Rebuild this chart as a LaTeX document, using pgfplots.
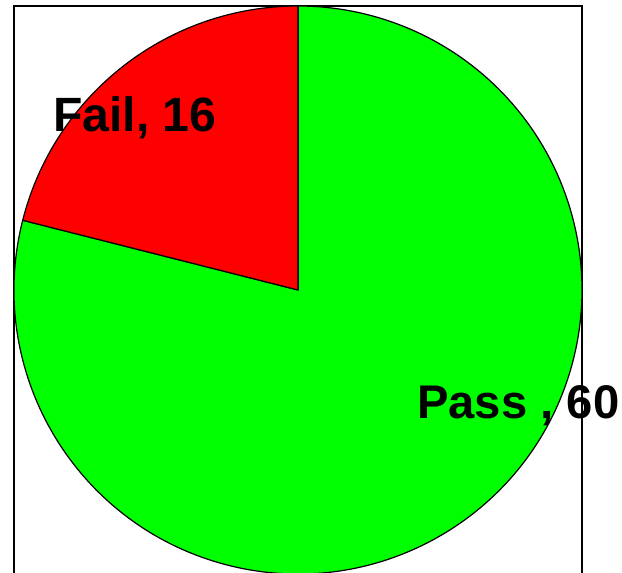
\documentclass[border=0pt]{standalone}
\usepackage{pgfplots}
\pgfplotsset{compat=1.18}
\usepackage{pgfplotstable}
\usepackage{fontspec}
\setmainfont{Liberation Sans}
\pgfplotstableread{
label value
Fail 16
Pass 60
}\piedata
\begin{document}
\begin{tikzpicture}
\pgfplotstablegetelem{0}{value}\of\piedata \let\vfail\pgfplotsretval
\pgfplotstablegetelem{1}{value}\of\piedata \let\vpass\pgfplotsretval
\pgfmathsetmacro{\total}{\vfail+\vpass}
\pgfmathsetmacro{\afail}{90+360*\vfail/\total}
\begin{axis}[
  x=0.75pt, y=0.75pt,
  xmin=14, xmax=582, ymin=-582, ymax=-6,
  at={(10.5pt,-436.5pt)}, anchor=south west,
  axis line style={line width=1.1pt},
  xtick=\empty, ytick=\empty,
  clip=false,
]
\draw[fill={rgb,255:red,0;green,255;blue,0}, line width=0.9pt]
  (axis cs:298,-290) -- ([shift={(\afail:213pt)}]axis cs:298,-290)
  arc[start angle=\afail, end angle=450, radius=213pt] -- cycle;
\draw[fill={rgb,255:red,255;green,0;blue,0}, line width=0.9pt]
  (axis cs:298,-290) -- ([shift={(90:213pt)}]axis cs:298,-290)
  arc[start angle=90, end angle=\afail, radius=213pt] -- cycle;
\node[anchor=base west, inner sep=0pt, font=\fontsize{36.1}{40}\selectfont\bfseries]
  at (axis cs:53,-132) {Fail, \vfail};
\node[anchor=base west, inner sep=0pt, font=\fontsize{35.4}{40}\selectfont\bfseries]
  at (axis cs:417,-419) {Pass , \vpass};
\end{axis}
\pgfresetboundingbox
\useasboundingbox (0,0) rectangle (466.5pt,-429.75pt);
\end{tikzpicture}
\end{document}
